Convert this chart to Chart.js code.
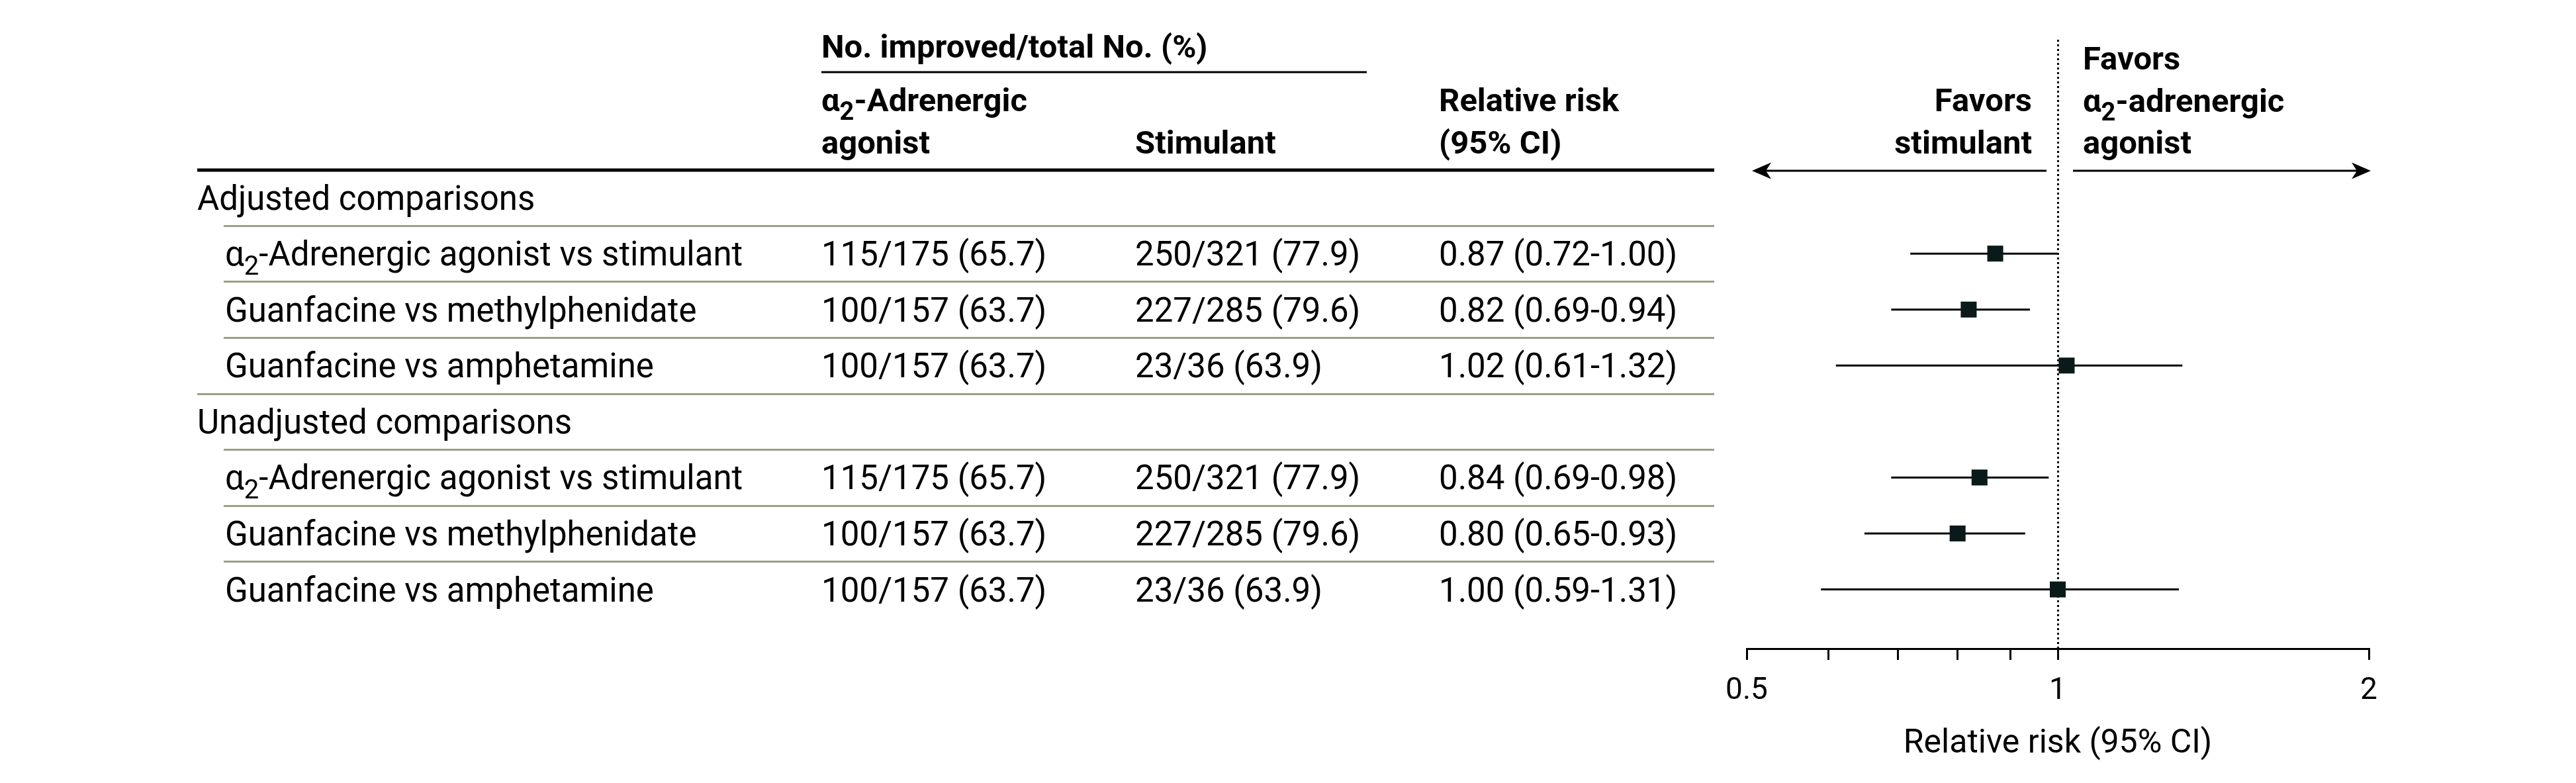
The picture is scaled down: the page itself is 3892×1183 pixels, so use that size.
<!DOCTYPE html>
<html><head><meta charset="utf-8">
<script src="https://cdn.jsdelivr.net/npm/chart.js@4.4.0/dist/chart.umd.min.js"></script>
<style>html,body{margin:0;padding:0;background:#fff;overflow:hidden}canvas{display:block}</style>
</head><body>
<canvas id="c" width="3892" height="1183" style="width:3892px;height:1183px"></canvas>
<script>
// ---- data ----
const groups = ['Adjusted comparisons', 'Unadjusted comparisons'];
const comparisons = [
  'α₂-Adrenergic agonist vs stimulant', 'Guanfacine vs methylphenidate', 'Guanfacine vs amphetamine',
  'α₂-Adrenergic agonist vs stimulant', 'Guanfacine vs methylphenidate', 'Guanfacine vs amphetamine'
];
const rowGroup = [0, 0, 0, 1, 1, 1];
const agonistImproved = [115, 100, 100, 115, 100, 100];
const agonistTotal = [175, 157, 157, 175, 157, 157];
const stimulantImproved = [250, 227, 23, 250, 227, 23];
const stimulantTotal = [321, 285, 36, 321, 285, 36];
const relativeRisk = [0.87, 0.82, 1.02, 0.84, 0.80, 1.00];
const ciLower = [0.72, 0.69, 0.61, 0.69, 0.65, 0.59];
const ciUpper = [1.00, 0.94, 1.32, 0.98, 0.93, 1.31];
const xTicks = [0.5, 0.6, 0.7, 0.8, 0.9, 1, 2];
const xTickLabels = ['0.5', '1', '2'];
const xAxisTitle = 'Relative risk (95% CI)';
const headerSpan = 'No. improved/total No. (%)';
const headerAgonist = ['α₂-Adrenergic', 'agonist'];
const headerStimulant = ['Stimulant'];
const headerRR = ['Relative risk', '(95% CI)'];
const favorsLeft = ['Favors', 'stimulant'];
const favorsRight = ['Favors', 'α₂-adrenergic', 'agonist'];

// ---- row positions (row units) ----
const groupPos = [];
const rowPos = [];
(function () {
  let p = 0;
  groups.forEach((g, gi) => {
    groupPos.push(p); p++;
    rowGroup.forEach((rg, i) => { if (rg === gi) { rowPos[i] = p; p++; } });
  });
})();

const FONT = 'Roboto, "Liberation Sans", Arial, sans-serif';
const BODY = 51, HEAD = 49;
const INK = '#000000';
const RULE = '#9ba086';

function drawRich(ctx, text, x, y, size, weight, align) {
  const parts = text.split('₂');
  const big = `${weight} ${size}px ${FONT}`;
  const small = `${weight} ${Math.round(size * 0.78)}px ${FONT}`;
  let w = 0;
  const segs = [];
  parts.forEach((t, i) => {
    if (i > 0) { ctx.font = small; const mw = ctx.measureText('2').width; segs.push({t: '2', f: small, w: mw, dy: size * 0.27}); w += mw; }
    if (t) { ctx.font = big; const mw = ctx.measureText(t).width; segs.push({t, f: big, w: mw, dy: 0}); w += mw; }
  });
  let cx = align === 'right' ? x - w : x;
  ctx.textAlign = 'left';
  ctx.textBaseline = 'alphabetic';
  segs.forEach(s => { ctx.font = s.f; ctx.fillText(s.t, cx, y + s.dy); cx += s.w; });
}

function hline(ctx, x1, x2, y, w, c) {
  ctx.save(); ctx.beginPath(); ctx.strokeStyle = c; ctx.lineWidth = w; ctx.lineCap = 'butt';
  ctx.moveTo(x1, y); ctx.lineTo(x2, y); ctx.stroke(); ctx.restore();
}

function arrowHead(ctx, tx, y, dir) {
  const L = 29, H = 12.5, N = 21;
  ctx.beginPath();
  ctx.moveTo(tx, y);
  ctx.lineTo(tx + dir * L, y - H);
  ctx.lineTo(tx + dir * N, y);
  ctx.lineTo(tx + dir * L, y + H);
  ctx.closePath();
  ctx.fill();
}

const forestPlugin = {
  id: 'forest',
  beforeDatasetsDraw(chart) {
    const ctx = chart.ctx, xs = chart.scales.x;
    const x1 = Math.round(xs.getPixelForValue(1)) + 0.5;
    ctx.save();
    ctx.strokeStyle = INK; ctx.lineWidth = 3; ctx.setLineDash([3, 4]);
    ctx.beginPath(); ctx.moveTo(x1, 60); ctx.lineTo(x1, chart.chartArea.bottom); ctx.stroke();
    ctx.restore();
  },
  afterDraw(chart) {
    const ctx = chart.ctx, xs = chart.scales.x, ys = chart.scales.y;
    const X_GROUP = 298, X_LABEL = 340, X_C2 = 1241, X_C3 = 1715, X_C4 = 2174, X_END = 2590;
    const BL = 18; // baseline offset from row centre
    ctx.save();
    ctx.fillStyle = INK;
    // column header
    drawRich(ctx, headerSpan, X_C2, 87, HEAD, 'bold', 'left');
    hline(ctx, X_C2, 2065, 109, 3, INK);
    headerAgonist.forEach((t, i) => drawRich(ctx, t, X_C2, 168 + i * 64, HEAD, 'bold', 'left'));
    headerStimulant.forEach((t, i) => drawRich(ctx, t, X_C3, 232 + i * 64, HEAD, 'bold', 'left'));
    headerRR.forEach((t, i) => drawRich(ctx, t, X_C4, 168 + i * 64, HEAD, 'bold', 'left'));
    hline(ctx, X_GROUP, X_END, 257, 5, INK);
    // groups and rows
    groups.forEach((g, gi) => {
      const y = ys.getPixelForValue(groupPos[gi]);
      drawRich(ctx, g, X_GROUP, y + BL, BODY, 'normal', 'left');
    });
    comparisons.forEach((c, i) => {
      const y = ys.getPixelForValue(rowPos[i]);
      const yTop = ys.getPixelForValue(rowPos[i] - 0.5);
      hline(ctx, X_LABEL - 2, X_END, Math.round(yTop) + 0.5, 3, RULE);
      drawRich(ctx, c, X_LABEL, y + BL, BODY, 'normal', 'left');
      const a = `${agonistImproved[i]}/${agonistTotal[i]} (${(agonistImproved[i] / agonistTotal[i] * 100).toFixed(1)})`;
      const s = `${stimulantImproved[i]}/${stimulantTotal[i]} (${(stimulantImproved[i] / stimulantTotal[i] * 100).toFixed(1)})`;
      const r = `${relativeRisk[i].toFixed(2)} (${ciLower[i].toFixed(2)}-${ciUpper[i].toFixed(2)})`;
      drawRich(ctx, a, X_C2, y + BL, BODY, 'normal', 'left');
      drawRich(ctx, s, X_C3, y + BL, BODY, 'normal', 'left');
      drawRich(ctx, r, X_C4, y + BL, BODY, 'normal', 'left');
    });
    // full-width rule between groups
    for (let gi = 1; gi < groups.length; gi++) {
      const yb = ys.getPixelForValue(groupPos[gi] - 0.5);
      hline(ctx, X_GROUP, X_END, Math.round(yb) + 0.5, 3, RULE);
    }
    // favors labels & arrows
    const x1 = xs.getPixelForValue(1);
    favorsLeft.forEach((t, i) => drawRich(ctx, t, x1 - 39, 168 + i * 64, HEAD, 'bold', 'right'));
    favorsRight.forEach((t, i) => drawRich(ctx, t, x1 + 38, 105 + i * 63.5, HEAD, 'bold', 'left'));
    const ay = 258;
    const lt = xs.getPixelForValue(0.5) + 8, rt = xs.getPixelForValue(2) + 3;
    hline(ctx, lt + 15, x1 - 17, ay, 3, INK);
    hline(ctx, x1 + 23, rt - 15, ay, 3, INK);
    ctx.fillStyle = INK;
    arrowHead(ctx, lt, ay, 1);
    arrowHead(ctx, rt, ay, -1);
    ctx.restore();
  }
};

const datasets = [{
  label: 'Relative risk',
  data: relativeRisk.map((v, i) => ({x: v, y: rowPos[i]})),
  pointStyle: 'rect', pointRadius: 17, pointHoverRadius: 17,
  backgroundColor: '#0a1a1a', borderColor: '#0a1a1a', borderWidth: 0, showLine: false
}];
relativeRisk.forEach((v, i) => datasets.push({
  label: 'CI ' + i,
  data: [{x: ciLower[i], y: rowPos[i]}, {x: ciUpper[i], y: rowPos[i]}],
  showLine: true, borderColor: '#000', borderWidth: 3, pointRadius: 0, pointHoverRadius: 0, fill: false
}));

const STEP_TOP = 214, AXIS_Y = 980;
new Chart(document.getElementById('c'), {
  type: 'scatter',
  data: {datasets},
  options: {
    responsive: false, animation: false, devicePixelRatio: 1,
    events: [],
    layout: {padding: {left: 2639, right: 3892 - 3579, top: STEP_TOP, bottom: 0}},
    plugins: {legend: {display: false}, tooltip: {enabled: false}},
    scales: {
      x: {
        type: 'logarithmic', min: 0.5, max: 2, position: 'bottom',
        afterBuildTicks: (sc) => { sc.ticks = xTicks.map(v => ({value: v})); },
        afterFit: (sc) => { sc.height = 1183 - AXIS_Y; },
        ticks: {
          autoSkip: false, maxRotation: 0, color: INK, padding: 20,
          font: {family: FONT, size: 46},
          callback: (v) => { const s = String(v); return xTickLabels.includes(s) ? s : ''; }
        },
        grid: {drawOnChartArea: false, drawTicks: true, tickLength: 17, color: INK, lineWidth: 3},
        border: {display: true, color: INK, width: 3},
        title: {display: true, text: xAxisTitle, color: INK, font: {family: FONT, size: 50}, padding: {top: 0, bottom: 29}}
      },
      y: {
        type: 'linear', reverse: true, display: false,
        min: -1, max: -1 + (AXIS_Y - STEP_TOP) / 84.57
      }
    }
  },
  plugins: [forestPlugin]
});
</script>
</body></html>
